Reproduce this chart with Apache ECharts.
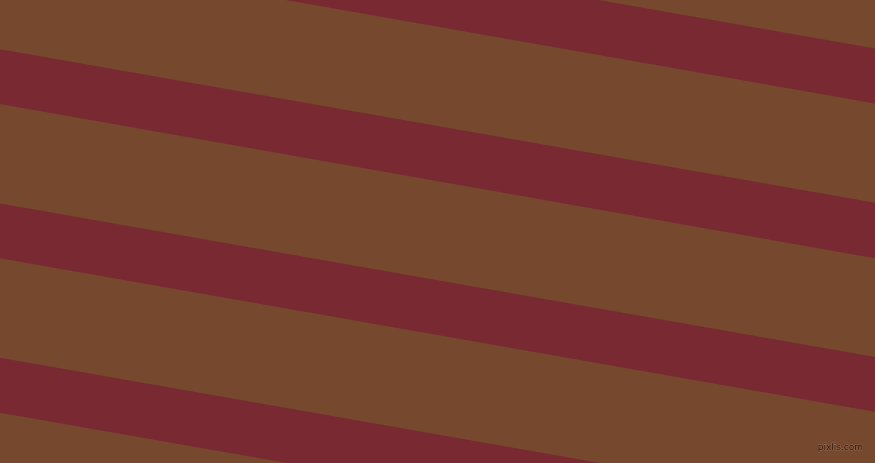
<!DOCTYPE html>
<html>
    <head>
        <meta charset="utf-8">
        <title>stripes</title>
        <script src="https://cdn.jsdelivr.net/npm/echarts@6/dist/echarts.min.js"></script>
        <style>
            html, body { margin: 0; padding: 0; background: #76482E; }
        </style>
    </head>
    <body>
        <div id="chart" style="width: 875px;height: 463px;"></div>
        <script>
            // stripe edges, y at left (x=0) and right (x=875) side
            var leftTop = [-104.9, 49.3, 203.5, 357.7];
            var leftBottom = [-50.2, 104, 258.3, 412.7];
            var rightTop = [48.5, 202.7, 357.1, 511.3];
            var rightBottom = [103.5, 258.3, 411.7, 566];
            var xMin = 0, xMax = 875;

            var data = [];
            for (var i = 0; i < leftTop.length; i++) {
                data.push([leftTop[i], leftBottom[i], rightTop[i], rightBottom[i]]);
            }

            var chart = echarts.init(document.getElementById('chart'));
            chart.setOption({
                backgroundColor: '#76482E',
                animation: false,
                title: {
                    text: 'pixlis.com',
                    right: 6,
                    bottom: 5,
                    textStyle: {
                        fontFamily: 'DejaVu Sans',
                        fontSize: 9,
                        fontWeight: 'normal',
                        color: '#2b1a10',
                        textBorderColor: 'rgba(170,130,110,0.55)',
                        textBorderWidth: 1
                    }
                },
                grid: { left: 0, right: 0, top: 0, bottom: 0 },
                xAxis: { type: 'value', min: xMin, max: xMax, show: false },
                yAxis: { type: 'value', min: 0, max: 463, inverse: true, show: false },
                series: [{
                    type: 'custom',
                    clip: true,
                    data: data,
                    renderItem: function (params, api) {
                        var pts = [
                            api.coord([xMin, api.value(0)]),
                            api.coord([xMax, api.value(2)]),
                            api.coord([xMax, api.value(3)]),
                            api.coord([xMin, api.value(1)])
                        ];
                        return {
                            type: 'polygon',
                            shape: { points: pts },
                            style: { fill: '#782931' }
                        };
                    }
                }]
            });
        </script>
    </body>
</html>
